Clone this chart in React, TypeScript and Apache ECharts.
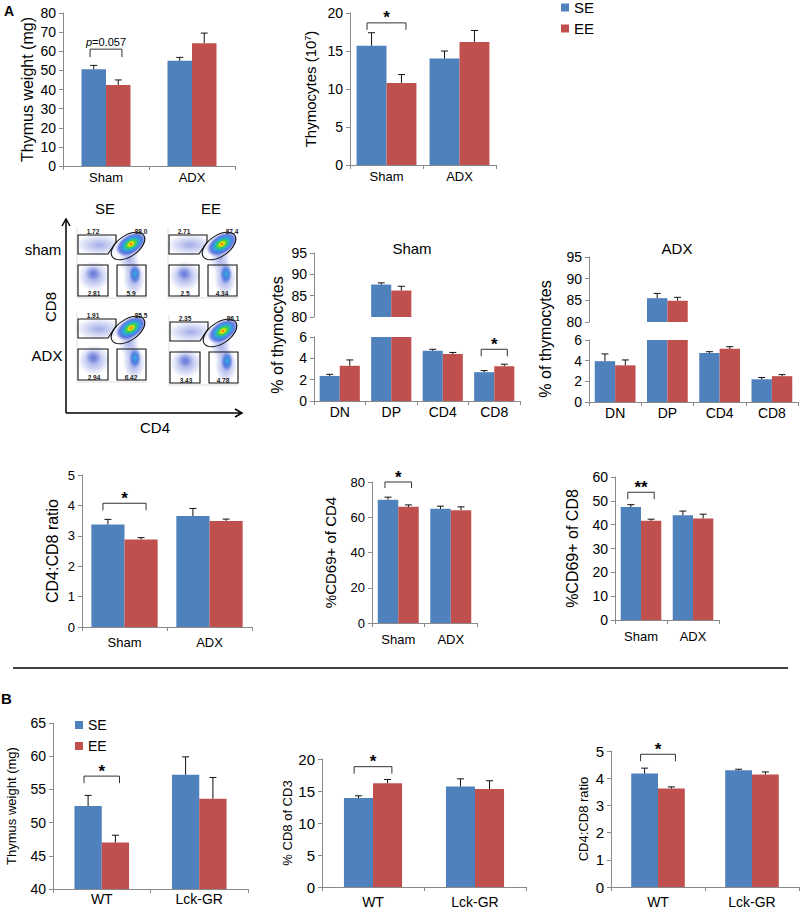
import React, { useEffect, useRef } from 'react';
import * as echarts from 'echarts';

const FONT = 'Liberation Sans, Arial, Helvetica, sans-serif';
const BLUE = '#4F81BD';
const RED = '#C0504D';
const AXIS = '#8a8a8a';

// ---------- categories ----------
const groupsA = ['Sham', 'ADX'];
const groupsB = ['WT', 'Lck-GR'];
const subsets = ['DN', 'DP', 'CD4', 'CD8'];
const legendNames = ['SE', 'EE'];

// ---------- A: thymus weight (mg) ----------
const wtA_SE = [50.6, 55.0];
const wtA_SEerr = [2.0, 1.8];
const wtA_EE = [42.4, 64.2];
const wtA_EEerr = [2.6, 5.3];

// ---------- A: thymocytes (10^7) ----------
const thy_SE = [15.7, 14.0];
const thy_SEerr = [1.7, 1.0];
const thy_EE = [10.8, 16.2];
const thy_EEerr = [1.1, 1.5];

// ---------- A: % of thymocytes, Sham ----------
const sham_SE = [2.35, 87.6, 4.7, 2.7];
const sham_SEerr = [0.15, 0.4, 0.15, 0.15];
const sham_EE = [3.3, 86.2, 4.4, 3.25];
const sham_EEerr = [0.55, 1.0, 0.15, 0.2];

// ---------- A: % of thymocytes, ADX ----------
const adx_SE = [3.95, 85.5, 4.75, 2.2];
const adx_SEerr = [0.7, 1.1, 0.12, 0.17];
const adx_EE = [3.55, 84.9, 5.15, 2.5];
const adx_EEerr = [0.52, 0.8, 0.2, 0.15];

// ---------- A: CD4:CD8 ratio ----------
const ratioA_SE = [3.37, 3.65];
const ratioA_SEerr = [0.17, 0.25];
const ratioA_EE = [2.88, 3.49];
const ratioA_EEerr = [0.06, 0.06];

// ---------- A: %CD69+ of CD4 ----------
const cd69cd4_SE = [70.0, 64.8];
const cd69cd4_SEerr = [1.4, 1.5];
const cd69cd4_EE = [65.9, 64.0];
const cd69cd4_EEerr = [1.1, 1.9];

// ---------- A: %CD69+ of CD8 ----------
const cd69cd8_SE = [47.4, 43.9];
const cd69cd8_SEerr = [1.0, 1.8];
const cd69cd8_EE = [41.6, 42.6];
const cd69cd8_EEerr = [0.7, 1.8];

// ---------- B: thymus weight (mg) ----------
const wtB_SE = [52.5, 57.2];
const wtB_SEerr = [1.6, 2.7];
const wtB_EE = [47.0, 53.6];
const wtB_EEerr = [1.1, 3.2];

// ---------- B: % CD8 of CD3 ----------
const cd8cd3_SE = [13.9, 15.7];
const cd8cd3_SEerr = [0.35, 1.2];
const cd8cd3_EE = [16.2, 15.3];
const cd8cd3_EEerr = [0.6, 1.3];

// ---------- B: CD4:CD8 ratio ----------
const ratioB_SE = [4.17, 4.29];
const ratioB_SEerr = [0.2, 0.04];
const ratioB_EE = [3.62, 4.14];
const ratioB_EEerr = [0.06, 0.09];

// ---------- axis ranges [min, max, interval] ----------
const rangeWtA = [0, 80, 10];
const rangeThy = [0, 20, 5];
const rangeUpper = [80, 95, 5];
const rangeLower = [0, 6, 2];
const rangeRatio = [0, 5, 1];
const rangeCd69cd4 = [0, 80, 20];
const rangeCd69cd8 = [0, 60, 10];
const rangeWtB = [40, 65, 5];
const rangeCd8cd3 = [0, 20, 5];

// ---------- flow-cytometry gate percentages (SE sham, EE sham, SE ADX, EE ADX) ----------
const flowNums = [
  ['1.72', '88.0', '2.81', '5.9'],
  ['2.71', '87.4', '2.5', '4.34'],
  ['1.91', '85.5', '2.94', '6.42'],
  ['2.35', '86.1', '3.43', '4.78'],
];

type Bracket = { cat: number; top: number; drop: number; text: string; size: number; dy: number; bold?: boolean; rich?: any };
type Panel = {
  rect: number[];
  cats: string[];
  se: (number | null)[];
  seErr: (number | null)[];
  ee: (number | null)[];
  eeErr: (number | null)[];
  range: number[];
  gap: number;
  name?: string;
  nameGap?: number;
  nameSize?: number;
  nameRich?: any;
  tickSize: number;
  xSize: number;
  xMargin: number;
  showX?: boolean;
  bracket?: Bracket;
};

function buildOption() {
  const grids: any[] = [];
  const xAxes: any[] = [];
  const yAxes: any[] = [];
  const series: any[] = [];

  const addPanel = (p: Panel) => {
    const i = grids.length;
    const [left, top, width, height] = p.rect;
    grids.push({ left, top, width, height });
    xAxes.push({
      type: 'category',
      gridIndex: i,
      data: p.cats,
      show: p.showX !== false,
      axisLine: { show: true, lineStyle: { color: AXIS, width: 1 } },
      axisTick: { show: true, length: 4, lineStyle: { color: AXIS } },
      axisLabel: { color: '#000', fontSize: p.xSize, fontFamily: FONT, margin: p.xMargin, interval: 0 },
    });
    yAxes.push({
      type: 'value',
      gridIndex: i,
      min: p.range[0],
      max: p.range[1],
      interval: p.range[2],
      splitLine: { show: false },
      axisLine: { show: true, lineStyle: { color: AXIS, width: 1 } },
      axisTick: { show: true, length: 4, lineStyle: { color: AXIS } },
      axisLabel: { color: '#000', fontSize: p.tickSize, fontFamily: FONT, margin: 7 },
      name: p.name || '',
      nameLocation: 'middle',
      nameGap: p.nameGap || 30,
      nameRotate: 90,
      nameTextStyle: { color: '#000', fontSize: p.nameSize || 14, fontFamily: FONT, rich: p.nameRich },
    });
    const gapPct = Math.round(p.gap * 100) + '%';
    series.push({
      type: 'bar', name: 'SE', xAxisIndex: i, yAxisIndex: i, data: p.se,
      barGap: '0%', barCategoryGap: gapPct, itemStyle: { color: BLUE }, silent: true, clip: true,
    });
    series.push({
      type: 'bar', name: 'EE', xAxisIndex: i, yAxisIndex: i, data: p.ee,
      barGap: '0%', barCategoryGap: gapPct, itemStyle: { color: RED }, silent: true, clip: true,
    });
    const gap = p.gap;
    const errSets: [number, (number | null)[], (number | null)[]][] = [
      [-1, p.se, p.seErr],
      [1, p.ee, p.eeErr],
    ];
    errSets.forEach(([side, vals, errs]) => {
      const data: number[][] = [];
      vals.forEach((v, k) => {
        const e = errs[k];
        if (v != null && e != null) data.push([k, v, e]);
      });
      series.push({
        type: 'custom',
        name: side < 0 ? 'SE' : 'EE',
        coordinateSystem: 'cartesian2d',
        xAxisIndex: i,
        yAxisIndex: i,
        silent: true,
        z: 5,
        encode: { x: 0, y: 1 },
        data,
        renderItem: (params: any, api: any) => {
          const cat = api.value(0);
          const v = api.value(1);
          const e = api.value(2);
          const band = api.size([1, 0])[0];
          const bw = (band * (1 - gap)) / 2;
          const p0 = api.coord([cat, v]);
          const p1 = api.coord([cat, v + e]);
          const x = p0[0] + (side * bw) / 2;
          return {
            type: 'group',
            children: [
              { type: 'line', shape: { x1: x, y1: p0[1], x2: x, y2: p1[1] }, style: { stroke: '#111', lineWidth: 1 } },
              { type: 'line', shape: { x1: x - 3.5, y1: p1[1], x2: x + 3.5, y2: p1[1] }, style: { stroke: '#111', lineWidth: 1 } },
            ],
          };
        },
      });
    });
    if (p.bracket) {
      const b = p.bracket;
      series.push({
        type: 'custom',
        name: 'bracket',
        coordinateSystem: 'cartesian2d',
        xAxisIndex: i,
        yAxisIndex: i,
        silent: true,
        clip: false,
        z: 6,
        encode: { x: 0, y: 1 },
        data: [[b.cat, b.top]],
        renderItem: (params: any, api: any) => {
          const band = api.size([1, 0])[0];
          const bw = (band * (1 - gap)) / 2;
          const c = api.coord([api.value(0), api.value(1)]);
          const x1 = c[0] - bw / 2 - bw * 0.15;
          const x2 = c[0] + bw / 2 + bw * 0.15;
          const y = c[1];
          return {
            type: 'group',
            children: [
              {
                type: 'polyline',
                shape: { points: [[x1, y + b.drop], [x1, y], [x2, y], [x2, y + b.drop]] },
                style: { stroke: '#333', fill: null, lineWidth: 1 },
              },
              {
                type: 'text',
                x: (x1 + x2) / 2,
                y: y - b.dy,
                style: {
                  text: b.text, fill: '#000', fontSize: b.size, fontFamily: FONT,
                  fontWeight: b.bold ? 'bold' : 'normal',
                  align: 'center', verticalAlign: 'middle', rich: b.rich,
                },
              },
            ],
          };
        },
      });
    }
  };

  const star = (cat: number, top: number, text = '*'): Bracket => ({ cat, top, drop: 7, text, size: 17, dy: 5, bold: true });

  // Row 1
  addPanel({
    rect: [63, 13, 172, 153], cats: groupsA,
    se: wtA_SE, seErr: wtA_SEerr, ee: wtA_EE, eeErr: wtA_EEerr,
    range: rangeWtA, gap: 0.43, name: 'Thymus weight (mg)', nameGap: 28, nameSize: 16,
    tickSize: 14, xSize: 13, xMargin: 5,
    bracket: {
      cat: 0, top: 61.1, drop: 8, text: '{i|p}=0.057', size: 11, dy: 7,
      rich: { i: { fontStyle: 'italic', fontSize: 11, fontFamily: FONT, fill: '#000' } },
    },
  });
  addPanel({
    rect: [350, 13, 146, 152], cats: groupsA,
    se: thy_SE, seErr: thy_SEerr, ee: thy_EE, eeErr: thy_EEerr,
    range: rangeThy, gap: 0.18, name: '{a|Thymocytes (10}{s|7}{a|)}', nameGap: 32, nameSize: 15,
    nameRich: {
      a: { fontSize: 15, fontFamily: FONT, color: '#000' },
      s: { fontSize: 9, fontFamily: FONT, color: '#000', verticalAlign: 'top' },
    },
    tickSize: 14, xSize: 13, xMargin: 5,
    bracket: star(0, 18.7),
  });

  // Row 2 broken-axis panels
  const upper = (v: (number | null)[]) => v.map((x) => (x != null && x >= 80 ? x : null));
  const upperErr = (v: (number | null)[], e: (number | null)[]) => v.map((x, k) => (x != null && x >= 80 ? e[k] : null));
  const lowerErr = (v: (number | null)[], e: (number | null)[]) => v.map((x, k) => (x != null && x >= 80 ? null : e[k]));

  addPanel({
    rect: [314, 253, 206, 64], cats: subsets,
    se: upper(sham_SE), seErr: upperErr(sham_SE, sham_SEerr), ee: upper(sham_EE), eeErr: upperErr(sham_EE, sham_EEerr),
    range: rangeUpper, gap: 0.22, tickSize: 14, xSize: 14, xMargin: 4, showX: false,
  });
  addPanel({
    rect: [314, 337, 206, 64], cats: subsets,
    se: sham_SE, seErr: lowerErr(sham_SE, sham_SEerr), ee: sham_EE, eeErr: lowerErr(sham_EE, sham_EEerr),
    range: rangeLower, gap: 0.22, tickSize: 14, xSize: 14, xMargin: 4,
    bracket: star(3, 4.85),
  });
  addPanel({
    rect: [589, 257, 209, 65], cats: subsets,
    se: upper(adx_SE), seErr: upperErr(adx_SE, adx_SEerr), ee: upper(adx_EE), eeErr: upperErr(adx_EE, adx_EEerr),
    range: rangeUpper, gap: 0.22, tickSize: 14, xSize: 14, xMargin: 4, showX: false,
  });
  addPanel({
    rect: [589, 340, 209, 62], cats: subsets,
    se: adx_SE, seErr: lowerErr(adx_SE, adx_SEerr), ee: adx_EE, eeErr: lowerErr(adx_EE, adx_EEerr),
    range: rangeLower, gap: 0.22, tickSize: 14, xSize: 14, xMargin: 4,
  });

  // Row 3
  addPanel({
    rect: [82, 475, 170, 152], cats: groupsA,
    se: ratioA_SE, seErr: ratioA_SEerr, ee: ratioA_EE, eeErr: ratioA_EEerr,
    range: rangeRatio, gap: 0.22, name: 'CD4:CD8 ratio', nameGap: 22, nameSize: 16,
    tickSize: 13, xSize: 13, xMargin: 9,
    bracket: star(0, 4.07),
  });
  addPanel({
    rect: [372, 482, 105, 141], cats: groupsA,
    se: cd69cd4_SE, seErr: cd69cd4_SEerr, ee: cd69cd4_EE, eeErr: cd69cd4_EEerr,
    range: rangeCd69cd4, gap: 0.22, name: '%CD69+ of CD4', nameGap: 34, nameSize: 15,
    tickSize: 13, xSize: 13, xMargin: 10,
    bracket: { cat: 0, top: 80, drop: 6, text: '*', size: 17, dy: 5, bold: true },
  });
  addPanel({
    rect: [615, 477, 104, 143], cats: groupsA,
    se: cd69cd8_SE, seErr: cd69cd8_SEerr, ee: cd69cd8_EE, eeErr: cd69cd8_EEerr,
    range: rangeCd69cd8, gap: 0.22, name: '%CD69+ of CD8', nameGap: 35, nameSize: 16,
    tickSize: 14, xSize: 13, xMargin: 10,
    bracket: star(0, 53.6, '**'),
  });

  // Row B
  addPanel({
    rect: [53, 723, 195, 166], cats: groupsB,
    se: wtB_SE, seErr: wtB_SEerr, ee: wtB_EE, eeErr: wtB_EEerr,
    range: rangeWtB, gap: 0.44, name: 'Thymus weight (mg)', nameGap: 35, nameSize: 13,
    tickSize: 14, xSize: 14, xMargin: 3,
    bracket: star(0, 57.0),
  });
  addPanel({
    rect: [322, 759, 204, 128], cats: groupsB,
    se: cd8cd3_SE, seErr: cd8cd3_SEerr, ee: cd8cd3_EE, eeErr: cd8cd3_EEerr,
    range: rangeCd8cd3, gap: 0.43, name: '% CD8 of CD3', nameGap: 24, nameSize: 13,
    tickSize: 15, xSize: 14, xMargin: 8,
    bracket: star(0, 18.8),
  });
  addPanel({
    rect: [611, 751, 188, 136], cats: groupsB,
    se: ratioB_SE, seErr: ratioB_SEerr, ee: ratioB_EE, eeErr: ratioB_EEerr,
    range: rangeRatio, gap: 0.43, name: 'CD4:CD8 ratio', nameGap: 21, nameSize: 13,
    tickSize: 15, xSize: 14, xMargin: 8,
    bracket: star(0, 4.88),
  });

  // ---------- flow cytometry illustration ----------
  const haze = (a: number) => ({
    type: 'radial', x: 0.5, y: 0.5, r: 0.5,
    colorStops: [
      { offset: 0, color: `rgba(70,90,210,${a})` },
      { offset: 1, color: 'rgba(70,90,210,0)' },
    ],
  });
  const hot = {
    type: 'radial', x: 0.5, y: 0.5, r: 0.5,
    colorStops: [
      { offset: 0, color: '#ff1a00' },
      { offset: 0.12, color: '#ffe600' },
      { offset: 0.3, color: '#3fcf4a' },
      { offset: 0.5, color: '#27a9e0' },
      { offset: 0.75, color: 'rgba(55,80,215,0.75)' },
      { offset: 1, color: 'rgba(55,80,215,0)' },
    ],
  };
  const cyan = {
    type: 'radial', x: 0.5, y: 0.5, r: 0.5,
    colorStops: [
      { offset: 0, color: '#2ab0e6' },
      { offset: 0.5, color: 'rgba(50,110,220,0.75)' },
      { offset: 1, color: 'rgba(50,90,215,0)' },
    ],
  };
  const gateStyle = { stroke: '#111', fill: null, lineWidth: 1.1 };
  const numStyle = (text: string, align: string) => ({
    text, fill: '#222', fontSize: 6.5, fontWeight: 'bold', fontFamily: FONT, align, verticalAlign: 'middle',
  });
  const flowBox = (x: number, y: number, nums: string[]) => ({
    type: 'group', x, y, silent: true,
    children: [
      { type: 'ellipse', shape: { cx: 22, cy: 17, rx: 24, ry: 11 }, style: { fill: haze(0.5) } },
      { type: 'ellipse', shape: { cx: 17, cy: 48, rx: 16, ry: 15 }, style: { fill: haze(0.6) } },
      { type: 'ellipse', shape: { cx: 52, cy: 30, rx: 10, ry: 17 }, style: { fill: haze(0.5) } },
      { type: 'ellipse', shape: { cx: 57, cy: 50, rx: 11, ry: 18 }, style: { fill: haze(0.6) } },
      { type: 'ellipse', x: 54, y: 16, rotation: 0.55, shape: { cx: 0, cy: 0, rx: 17, ry: 10 }, style: { fill: hot } },
      { type: 'ellipse', shape: { cx: 58, cy: 46, rx: 6, ry: 10 }, style: { fill: cyan } },
      { type: 'ellipse', shape: { cx: 16, cy: 45, rx: 8, ry: 7 }, style: { fill: haze(0.65) } },
      { type: 'line', shape: { x1: 0, y1: 0, x2: 0, y2: 70 }, style: { stroke: '#c8c8c8', lineWidth: 0.6 } },
      { type: 'line', shape: { x1: 0, y1: 70, x2: 70, y2: 70 }, style: { stroke: '#c8c8c8', lineWidth: 0.6 } },
      { type: 'polygon', shape: { points: [[1, 7], [39, 7], [39, 14], [31, 26], [1, 26]] }, style: gateStyle },
      { type: 'ellipse', x: 51, y: 18, rotation: 0.6, shape: { cx: 0, cy: 0, rx: 19, ry: 10.5 }, style: gateStyle },
      { type: 'rect', shape: { x: 1, y: 37, width: 30, height: 31 }, style: gateStyle },
      { type: 'rect', shape: { x: 40, y: 37, width: 29, height: 31 }, style: gateStyle },
      { type: 'text', x: 16, y: 3, style: numStyle(nums[0], 'center') },
      { type: 'text', x: 64, y: 3, style: numStyle(nums[1], 'center') },
      { type: 'text', x: 17, y: 65, style: numStyle(nums[2], 'center') },
      { type: 'text', x: 54, y: 65, style: numStyle(nums[3], 'center') },
    ],
  });
  const txt = (x: number, y: number, text: string, size: number, extra: any = {}) => ({
    type: 'text', x, y, silent: true, ...extra,
    style: { text, fill: '#000', fontSize: size, fontFamily: FONT, align: 'center', verticalAlign: 'middle', ...(extra.style || {}) },
  });

  const graphic = [
    // panel letters
    { type: 'text', x: 4, y: 4, silent: true, style: { text: 'A', fill: '#000', fontSize: 14, fontWeight: 'bold', fontFamily: FONT } },
    { type: 'text', x: 1, y: 691, silent: true, style: { text: 'B', fill: '#000', fontSize: 15, fontWeight: 'bold', fontFamily: FONT } },
    // flow plot
    flowBox(77, 228, flowNums[0]),
    flowBox(168, 228, flowNums[1]),
    flowBox(77, 312, flowNums[2]),
    flowBox(169, 315, flowNums[3]),
    txt(105, 208, legendNames[0], 15),
    txt(211, 208, legendNames[1], 15),
    txt(43, 249, 'sham', 15),
    txt(47, 355, groupsA[1], 15),
    txt(50, 307, 'CD8', 15, { rotation: Math.PI / 2 }),
    txt(155, 427, 'CD4', 15),
    { type: 'line', silent: true, shape: { x1: 66, y1: 413, x2: 66, y2: 220 }, style: { stroke: '#000', lineWidth: 1.5 } },
    { type: 'polyline', silent: true, shape: { points: [[62, 226], [66, 219], [70, 226]] }, style: { stroke: '#000', lineWidth: 1.5, fill: null } },
    { type: 'line', silent: true, shape: { x1: 66, y1: 413, x2: 241, y2: 413 }, style: { stroke: '#000', lineWidth: 1.5 } },
    { type: 'polyline', silent: true, shape: { points: [[235, 409], [242, 413], [235, 417]] }, style: { stroke: '#000', lineWidth: 1.5, fill: null } },
    // broken-axis panel titles and y names
    txt(412, 248, groupsA[0], 15),
    txt(677, 248, groupsA[1], 15),
    txt(277, 335, '% of thymocytes', 16, { rotation: Math.PI / 2 }),
    txt(545, 339, '% of thymocytes', 16, { rotation: Math.PI / 2 }),
    // separator
    { type: 'line', silent: true, shape: { x1: 13, y1: 668, x2: 788, y2: 668 }, style: { stroke: '#000', lineWidth: 1.5 } },
  ];

  const legendBase = {
    orient: 'vertical', icon: 'rect', itemWidth: 8, itemHeight: 8, selectedMode: false,
    data: legendNames,
  };

  return {
    animation: false,
    backgroundColor: '#fff',
    textStyle: { fontFamily: FONT },
    color: [BLUE, RED],
    legend: [
      { ...legendBase, left: 561, top: 0, padding: 0, itemGap: 6, textStyle: { fontSize: 15, color: '#000', fontFamily: FONT } },
      { ...legendBase, left: 70, top: 713, itemGap: 7, textStyle: { fontSize: 14, color: '#000', fontFamily: FONT } },
    ],
    grid: grids,
    xAxis: xAxes,
    yAxis: yAxes,
    series,
    graphic,
  };
}

export default function App() {
  const ref = useRef<HTMLDivElement>(null);
  useEffect(() => {
    document.body.style.margin = '0';
    const chart = echarts.init(ref.current as HTMLDivElement, null, { renderer: 'svg' });
    chart.setOption(buildOption() as any);
    return () => chart.dispose();
  }, []);
  return <div ref={ref} style={{ width: 800, height: 909 }} />;
}
